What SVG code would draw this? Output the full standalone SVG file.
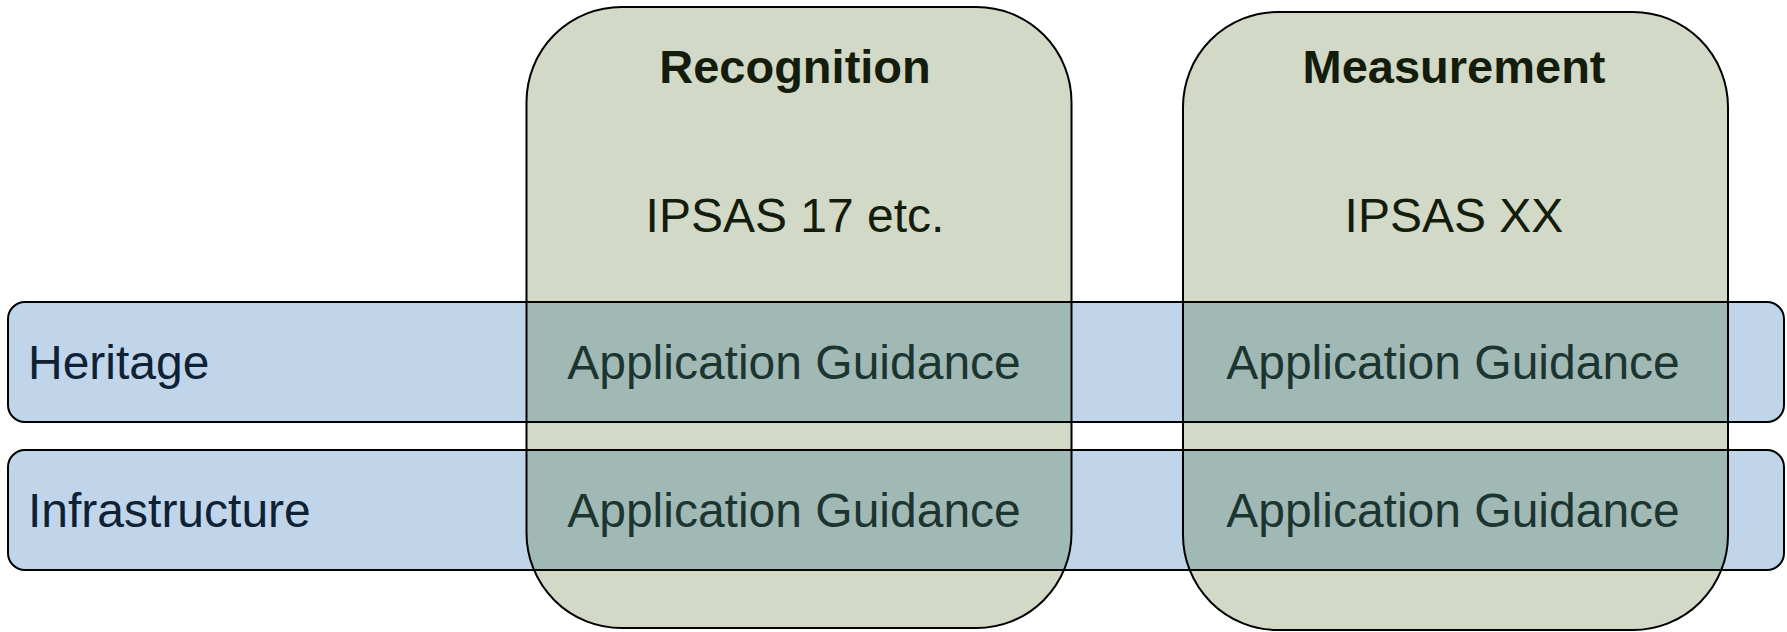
<svg xmlns="http://www.w3.org/2000/svg" width="1787" height="632" viewBox="0 0 1787 632">
<style>
.col{fill:#D2D9C7;stroke:none}
.band{fill:#C0D5E9;stroke:none}
.ov{fill:#A1B9B5;stroke:none}
.edge{fill:none;stroke:#000;stroke-width:2}
.hd{font-family:"Liberation Sans",Arial,sans-serif;font-weight:bold;font-size:47px;fill:#141C0C;text-anchor:middle}
.sub{font-family:"Liberation Sans",Arial,sans-serif;font-size:48px;fill:#141C0C;text-anchor:middle}
.lbl{font-family:"Liberation Sans",Arial,sans-serif;font-size:48px;fill:#0F2135}
.ag{font-family:"Liberation Sans",Arial,sans-serif;font-size:48px;fill:#1C3530;text-anchor:middle}
</style>
<defs>
<clipPath id="colclip">
<rect x="526.5" y="7" width="545" height="621" rx="95" ry="95"/>
<rect x="1183" y="12" width="545" height="618" rx="95" ry="95"/>
</clipPath>
</defs>
<g id="fills">
<rect class="col" x="526.5" y="7" width="545" height="621" rx="95" ry="95"/>
<rect class="col" x="1183" y="12" width="545" height="618" rx="95" ry="95"/>
<rect class="band" x="8" y="302" width="1776" height="120" rx="17" ry="17"/>
<rect class="band" x="8" y="450" width="1776" height="120" rx="17" ry="17"/>
<g clip-path="url(#colclip)">
<rect class="ov" x="8" y="302" width="1776" height="120"/>
<rect class="ov" x="8" y="450" width="1776" height="120"/>
</g>
</g>
<g id="recognition">
<rect class="edge" x="526.5" y="7" width="545" height="621" rx="95" ry="95"/>
<text class="hd" x="795" y="83">Recognition</text>
<text class="sub" x="795" y="232">IPSAS 17 etc.</text>
</g>
<g id="measurement">
<rect class="edge" x="1183" y="12" width="545" height="618" rx="95" ry="95"/>
<text class="hd" x="1454" y="83">Measurement</text>
<text class="sub" x="1454" y="232">IPSAS XX</text>
</g>
<g id="heritage">
<rect class="edge" x="8" y="302" width="1776" height="120" rx="17" ry="17"/>
<text class="lbl" x="28" y="379">Heritage</text>
<text class="ag" x="794" y="379">Application Guidance</text>
<text class="ag" x="1453" y="379">Application Guidance</text>
</g>
<g id="infrastructure">
<rect class="edge" x="8" y="450" width="1776" height="120" rx="17" ry="17"/>
<text class="lbl" x="28" y="527">Infrastructure</text>
<text class="ag" x="794" y="527">Application Guidance</text>
<text class="ag" x="1453" y="527">Application Guidance</text>
</g>
</svg>
